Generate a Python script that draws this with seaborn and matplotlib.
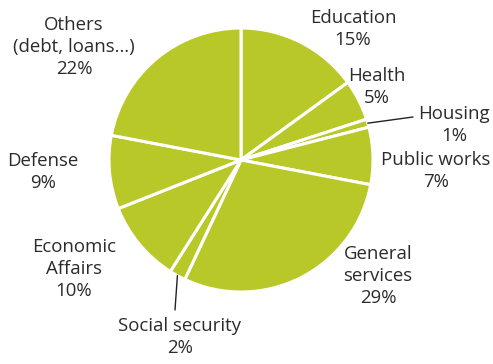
import numpy as np
import matplotlib
matplotlib.use("Agg")
import matplotlib.pyplot as plt
import seaborn as sns

categories = ["Education", "Health", "Housing", "Public works", "General services",
              "Social security", "Economic Affairs", "Defense", "Others"]
label_texts = ["Education\n15%", "Health\n5%", "Housing\n1%", "Public works\n7%",
               "General\nservices\n29%", "Social security\n2%", "Economic\nAffairs\n10%",
               "Defense\n9%", "Others\n(debt, loans…)\n22%"]
values = [15, 5, 1, 7, 29, 2, 10, 9, 22]

sns.set_theme(style="white")
plt.rcParams['font.family'] = ['Open Sans', 'DejaVu Sans']

W, H = 493, 364
cx, cy, R = 241, 160, 132
fig = plt.figure(figsize=(W / 100, H / 100), dpi=100)
ax = fig.add_axes([0, 0, 1, 1])

color = "#b9c829"
ax.pie(values, radius=R, startangle=90, counterclock=False, colors=[color] * len(values),
       wedgeprops=dict(edgecolor="white", linewidth=2.2))
ax.set_xlim(-cx, W - cx)
ax.set_ylim(-(H - cy), cy)
ax.set_aspect("equal")
ax.axis("off")

# label centres in pixel positions (layout)
label_pos = {
    "Education": (353, 29),
    "Health": (377, 87),
    "Housing": (454, 125),
    "Public works": (436, 171),
    "General services": (378, 276),
    "Social security": (180, 337),
    "Economic Affairs": (74, 269),
    "Defense": (43, 172),
    "Others": (74, 47),
}
txt_color = "#2b2b2b"
for cat, txt in zip(categories, label_texts):
    px, py = label_pos[cat]
    ax.text(px - cx, cy - py, txt, ha="center", va="center", fontsize=13.4,
            color=txt_color, linespacing=1.28)

# leader lines for small wedges
cum = np.cumsum([0] + values[:-1])
total = sum(values)
leaders = {"Housing": (413, 117), "Social security": (175, 310)}
for i, cat in enumerate(categories):
    if cat in leaders:
        mid = (cum[i] + values[i] / 2) / total * 2 * np.pi
        sx, sy = R * 1.0 * np.sin(mid), R * 1.0 * np.cos(mid)
        ex, ey = leaders[cat]
        ax.plot([sx, ex - cx], [sy, cy - ey], color="#222222", lw=1)

fig.savefig("out.png", dpi=100)
